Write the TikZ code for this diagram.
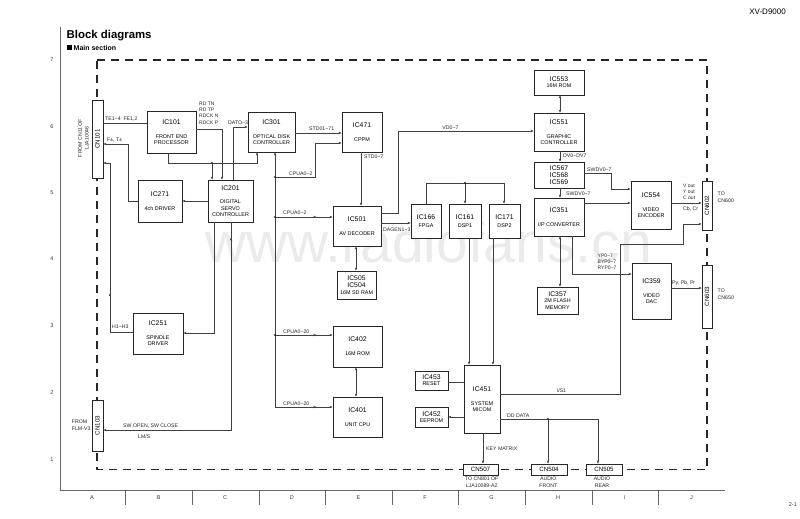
\documentclass[tikz,border=0pt]{standalone}
\usepackage{fontspec}
\setmainfont{Liberation Sans}
\usetikzlibrary{arrows.meta,decorations.markings}
\newcommand\tild{\textasciitilde}
\newcommand\icn[1]{{\fontsize{6.8}{7}\selectfont #1}}
\begin{document}
\begin{tikzpicture}[x=1pt,y=-1pt,
  ic/.style={draw=black!85, line width=0.8pt, fill=white, inner sep=0pt, align=center, font=\fontsize{5.4}{6.3}\selectfont},
  cn/.style={draw=black!85, line width=0.8pt, fill=white, inner sep=0pt, font=\fontsize{6.2}{7}\selectfont},
  wire/.style={draw=black!75, line width=0.45pt},
  arr/.style={wire, -{Stealth[length=3.2pt,width=2.4pt]}},
  biarr/.style={wire, {Stealth[length=3.2pt,width=2.4pt]}-{Stealth[length=3.2pt,width=2.4pt]}},
  midarr/.style={postaction={decorate}, decoration={markings, mark=at position #1 with {\arrow{Stealth[length=3.2pt,width=2.4pt]}}}},
  revmid/.style={postaction={decorate}, decoration={markings, mark=at position #1 with {\arrowreversed{Stealth[length=3.2pt,width=2.4pt]}}}},
  lbl/.style={inner sep=0pt, anchor=west, font=\fontsize{5.2}{6}\selectfont, text=black!85},
  clbl/.style={inner sep=0pt, align=center, font=\fontsize{5.2}{6.6}\selectfont, text=black!85},
  dot/.style={circle, fill=black!85, inner sep=0pt, minimum size=2.4pt},
  border/.style={draw=black!60, line width=0.5pt},
  grid/.style={inner sep=0pt, font=\fontsize{5.5}{6}\selectfont, text=black!80},
]
\useasboundingbox (0,0) rectangle (800,519);

% watermark
\node[anchor=base west, inner sep=0pt, font=\fontsize{57}{57}\selectfont, text=black!8] (wm) at (205,262) {www.radiofans.cn};

% header
\node[inner sep=0pt, anchor=east, font=\fontsize{8}{9}\selectfont] (model) at (786,12) {XV-D9000};
\node[anchor=west, inner sep=0pt, font=\bfseries\fontsize{11.4}{13}\selectfont] (title) at (66.5,36) {Block diagrams};
\fill[black] (67,45.5) rectangle (72,50.5);
\node[anchor=west, inner sep=0pt, font=\bfseries\fontsize{7}{8}\selectfont] (sub) at (73.5,48) {Main section};

% sheet border and grid labels
\draw[border] (60,27) -- (60,490) -- (725,490);
\foreach \r/\yy in {7/60,6/127,5/193,4/259,3/326,2/393,1/460}
  \node[grid] (row\r) at (52,\yy) {\r};
\foreach \c [count=\i from 0] in {A,B,C,D,E,F,G,H,I,J}
  \node[grid] (col\c) at ({92+66.6*\i},498) {\c};
\foreach \i in {1,...,9}
  \draw[border] ({59+66.6*\i},490) -- ({59+66.6*\i},505);
\node[grid, anchor=east] (page) at (797,505) {2-1};

% dashed section frame
\draw[black!85, line width=1.3pt, dash pattern=on 8pt off 6pt] (97,60) -- (707,60) -- (707,469.5) -- (97,469.5) -- cycle;

% connectors / boxes
\node[cn, minimum width=11pt, minimum height=78pt] (cn101) at (97.5,139) {};
\node[rotate=90, inner sep=0pt, font=\fontsize{6.2}{7}\selectfont] (cn101t) at (97.5,139) {CN101};
\node[clbl, rotate=90] (cn101s) at (83.5,138) {FROM CN11 OF\\LJA10046};

\node[cn, minimum width=11pt, minimum height=51pt] (cn103) at (97.5,425.5) {};
\node[rotate=90, inner sep=0pt, font=\fontsize{6.2}{7}\selectfont] (cn103t) at (97.5,425.5) {CN103};
\node[clbl, align=left, anchor=west] (cn103s) at (71.7,425) {FROM\\FLM-V3};

\node[cn, minimum width=10pt, minimum height=49pt] (cn602) at (707,205.5) {};
\node[rotate=90, inner sep=0pt, font=\fontsize{6.2}{7}\selectfont] (cn602t) at (707,205.5) {CN602};
\node[clbl, align=left, anchor=west] (cn602s) at (717.5,197.5) {TO\\CN600};

\node[cn, minimum width=10pt, minimum height=63pt] (cn603) at (707,296.5) {};
\node[rotate=90, inner sep=0pt, font=\fontsize{6.2}{7}\selectfont] (cn603t) at (707,296.5) {CN603};
\node[clbl, align=left, anchor=west] (cn603s) at (717.5,294) {TO\\CN650};

\node[cn, minimum width=35pt, minimum height=11pt] (cn507) at (480.5,469.5) {CN507};
\node[clbl] (cn507s) at (481.7,482) {TO CN801 OF\\LJA10089-A2};
\node[cn, minimum width=36pt, minimum height=11pt] (cn504) at (549,469.5) {CN504};
\node[clbl] (cn504s) at (548.3,482) {AUDIO\\FRONT};
\node[cn, minimum width=36pt, minimum height=11pt] (cn505) at (604,469.5) {CN505};
\node[clbl] (cn505s) at (602,482) {AUDIO\\REAR};

% ICs
\node[ic, minimum width=49pt, minimum height=42pt] (ic101) at (171.5,132) {\icn{IC101}\\[7.5pt]FRONT END\\PROCESSOR};
\node[ic, minimum width=47pt, minimum height=40pt] (ic301) at (271.5,132) {\icn{IC301}\\[7.5pt]OPTICAL DISK\\CONTROLLER};
\node[ic, minimum width=40pt, minimum height=40pt] (ic471) at (362,132) {\icn{IC471}\\[7.5pt]CPPM};
\node[ic, minimum width=44pt, minimum height=42pt] (ic271) at (160,201) {\icn{IC271}\\[8pt]4ch DRIVER};
\node[ic, minimum width=45pt, minimum height=42pt] (ic201) at (230.5,201) {\icn{IC201}\\[7.5pt]DIGITAL\\SERVO\\CONTROLLER};
\node[ic, minimum width=48pt, minimum height=40pt] (ic501) at (357,226) {\icn{IC501}\\[7.5pt]AV DECODER};
\node[ic, minimum width=39pt, minimum height=28pt] (ic505) at (356.5,285) {\icn{IC505}\\[1pt]\icn{IC504}\\[0.5pt]16M SD RAM};
\node[ic, minimum width=30pt, minimum height=34pt] (ic166) at (426,221) {\icn{IC166}\\[1.5pt]FPGA};
\node[ic, minimum width=32pt, minimum height=34pt] (ic161) at (465,221) {\icn{IC161}\\[1.5pt]DSP1};
\node[ic, minimum width=31pt, minimum height=34pt] (ic171) at (504.5,221) {\icn{IC171}\\[1.5pt]DSP2};
\node[ic, minimum width=50pt, minimum height=25pt] (ic553) at (559,82.5) {\icn{IC553}\\16M ROM};
\node[ic, minimum width=50pt, minimum height=38pt] (ic551) at (559,132) {\icn{IC551}\\[7.5pt]GRAPHIC\\CONTROLLER};
\node[ic, minimum width=50pt, minimum height=26pt] (ic567) at (559,175) {\icn{IC567}\\[0.6pt]\icn{IC568}\\[0.6pt]\icn{IC569}};
\node[ic, minimum width=50pt, minimum height=38pt] (ic351) at (559,217) {\icn{IC351}\\[7.5pt]I/P CONVERTER};
\node[ic, minimum width=41pt, minimum height=27pt] (ic357) at (557.5,300.5) {\icn{IC357}\\[0pt]2M FLASH\\MEMORY};
\node[ic, minimum width=40pt, minimum height=48pt] (ic554) at (651,205) {\icn{IC554}\\[7.5pt]VIDEO\\ENCODER};
\node[ic, minimum width=39pt, minimum height=56pt] (ic359) at (651.5,291) {\icn{IC359}\\[7.5pt]VIDEO\\DAC};
\node[ic, minimum width=50pt, minimum height=41pt] (ic251) at (158,333.5) {\icn{IC251}\\[7.5pt]SPINDLE\\DRIVER};
\node[ic, minimum width=49pt, minimum height=41pt] (ic402) at (357.5,346.5) {\icn{IC402}\\[7.5pt]16M ROM};
\node[ic, minimum width=49pt, minimum height=40pt] (ic401) at (357.5,417) {\icn{IC401}\\[7.5pt]UNIT CPU};
\node[ic, minimum width=33pt, minimum height=19pt] (ic453) at (431.5,380.5) {\icn{IC453}\\[-0.5pt]RESET};
\node[ic, minimum width=33pt, minimum height=20pt] (ic452) at (431.5,417) {\icn{IC452}\\[-0.5pt]EEPROM};
\node[ic, minimum width=36pt, minimum height=68pt] (ic451) at (482,399) {\icn{IC451}\\[7.5pt]SYSTEM\\MICOM};

% bus points
\coordinate (p163a) at (168,163);
\coordinate (p163b) at (257,163);
\coordinate (p163c) at (212,163);
\coordinate (bus177) at (275,177);
\coordinate (bus217) at (275,217);
\coordinate (bus335) at (275,335);
\coordinate (bus407) at (275,407);
\coordinate (dsp183) at (465,183);
\coordinate (dd419) at (548,419);

% CN101 side
\draw[wire] (cn101.east |- 0,123) -- (ic101.west |- 0,123);
\node[lbl] (lte) at (105,119.5) {TE1\tild4\ \ FE1,2};
\draw[arr] (ic271.west) -- (128,201) -- (128,144) -- (cn101.east |- 0,144);
\node[lbl] (lft) at (107,140) {F±, T±};
\draw[arr, midarr=0.31] (ic251.west |- 0,332) -- (110,332) -- (110,163) -- (cn101.east |- 0,163);
\node[lbl] (lh) at (112,327) {H1\tild H3};
\draw[arr] (ic201.west) -- (ic271.east);

% IC101 outputs
\draw[arr] (ic101.east |- 0,129) -- (222,129) -- (222,0 |- ic201.north);
\node[clbl, align=left, anchor=north west, font=\fontsize{5}{6.3}\selectfont] (lrd) at (199,101.5) {RD TN\\RD TP\\RDCK N\\RDCK P};
\draw[arr] (168,0 |- ic101.south) -- (p163a) -- (p163b) -- (257,0 |- ic301.south);
\draw[arr] (p163c) -- (212,0 |- ic201.north);
\node[dot] (d1) at (p163c) {};
\draw[arr] (233,0 |- ic201.north) -- (233,127) -- (ic301.west |- 0,127);
\node[lbl] (ldat) at (228,122.5) {DATO\tild3};

% IC301 / IC471
\draw[arr] (ic301.east |- 0,133) -- (ic471.west |- 0,133);
\node[lbl] (lstd1) at (309,128.5) {STD01\tild71};
\draw[arr] (361,0 |- ic471.south) -- (361,0 |- ic501.north);
\node[lbl] (lstd2) at (364,157) {STD0\tild7};

% CPU address bus
\draw[arr] (bus407) -- (275,0 |- ic301.south);
\draw[arr] (bus177) -- (315,177) -- (315,143) -- (ic471.west |- 0,143);
\node[lbl] (lcpu1) at (289,174) {CPUA0\tild2};
\draw[arr, midarr=0.72] (bus217) -- (ic501.west |- bus217);
\node[lbl] (lcpu2) at (283,213) {CPUA0\tild2};
\draw[arr, midarr=0.72] (bus335) -- (ic402.west |- bus335);
\node[lbl] (lcpu3) at (283,331.5) {CPUA0\tild20};
\draw[arr, midarr=0.72] (bus407) -- (ic401.west |- bus407);
\node[lbl] (lcpu4) at (283,403.5) {CPUA0\tild20};
\node[dot] (d2) at (bus177) {};
\node[dot] (d3) at (bus217) {};
\node[dot] (d4) at (bus335) {};
\draw[biarr] (356,0 |- ic402.south) -- (356,0 |- ic401.north);

% IC501
\draw[biarr] (356,0 |- ic501.south) -- (356,0 |- ic505.north);
\draw[arr] (ic501.east |- 0,213) -- (398,213) -- (398,131) -- (ic551.west |- 0,131);
\node[lbl, anchor=center] (lvd) at (450.5,128) {VD0\tild7};
\draw[arr] (ic501.east |- 0,223) -- (ic166.west |- 0,223);
\node[lbl] (ldag) at (383,229.5) {DAGEN1\tild3};

% DSP bus
\draw[arr] (426,0 |- ic166.north) -- (426,183) -- (504,183) -- (504,0 |- ic171.north);
\draw[arr] (dsp183) -- (465,0 |- ic161.north);
\node[dot] (d5) at (dsp183) {};
\draw[arr] (469,0 |- ic161.south) -- (469,0 |- ic451.north);
\draw[arr] (493,0 |- ic171.south) -- (493,0 |- ic451.north);

% IC451
\draw[wire] (ic453.east |- 0,382.5) -- (ic451.west |- 0,382.5);
\draw[arr] (ic451.west |- 0,417) -- (ic452.east |- 0,417);
\draw[arr] (ic451.east |- 0,394) -- (620,394) -- (620,244) -- (683,244) -- (683,224) -- (cn602.west |- 0,224);
\node[lbl, anchor=center] (lis) at (561.5,391) {I/S1};
\draw[arr] (ic451.east |- dd419) -- (598,419) -- (598,0 |- cn505.north);
\draw[arr] (dd419) -- (548,0 |- cn504.north);
\node[dot] (d6) at (dd419) {};
\node[lbl] (ldd) at (507,416) {DD DATA};
\draw[arr] (483,0 |- ic451.south) -- (483,0 |- cn507.north);
\node[lbl] (lkey) at (486,448.5) {KEY MATRIX};

% video chain
\draw[biarr] (560,0 |- ic553.south) -- (560,0 |- ic551.north);
\draw[arr] (560,0 |- ic551.south) -- (560,0 |- ic567.north);
\node[lbl] (ldv) at (563,155.5) {DV0\tild DV7};
\draw[arr] (ic567.east |- 0,173) -- (611,173) -- (611,189) -- (ic554.west |- 0,189);
\node[lbl] (lsw1) at (587,170) {SWDV0\tild7};
\draw[arr] (560,0 |- ic567.south) -- (560,0 |- ic351.north);
\node[lbl] (lsw2) at (566,193.5) {SWDV0\tild7};
\draw[arr] (ic351.east |- 0,203) -- (ic554.west |- 0,203);
\draw[biarr] (560,0 |- ic351.south) -- (560,0 |- ic357.north);
\draw[arr] (572,0 |- ic351.south) -- (572,274) -- (ic359.west |- 0,274);
\node[clbl, align=left, anchor=north west, font=\fontsize{5}{6.3}\selectfont] (lyp) at (597.5,253.5) {YP0\tild7\\BYP0\tild7\\RYP0\tild7};
\draw[arr] (ic554.east |- 0,203) -- (cn602.west |- 0,203);
\node[clbl, align=left, anchor=north west, font=\fontsize{5}{6.1}\selectfont] (lvout) at (683,184) {V out\\Y out\\C out};
\node[lbl] (lcb) at (683,209) {Cb, Cr};
\draw[arr] (ic359.east |- 0,288) -- (cn603.west |- 0,288);
\node[lbl] (lpy) at (672,283.5) {Py, Pb, Pr};

% IC201 lower outputs
\draw[arr] (214,0 |- ic201.south) -- (214,333) -- (ic251.east |- 0,333);
\draw[arr, revmid=0.045] (231,0 |- ic201.south) -- (231,430) -- (cn103.east |- 0,430);
\node[lbl] (lsw) at (123,426) {SW OPEN, SW CLOSE};
\node[lbl] (llm) at (138,436.5) {LM/S};
\end{tikzpicture}
\end{document}
